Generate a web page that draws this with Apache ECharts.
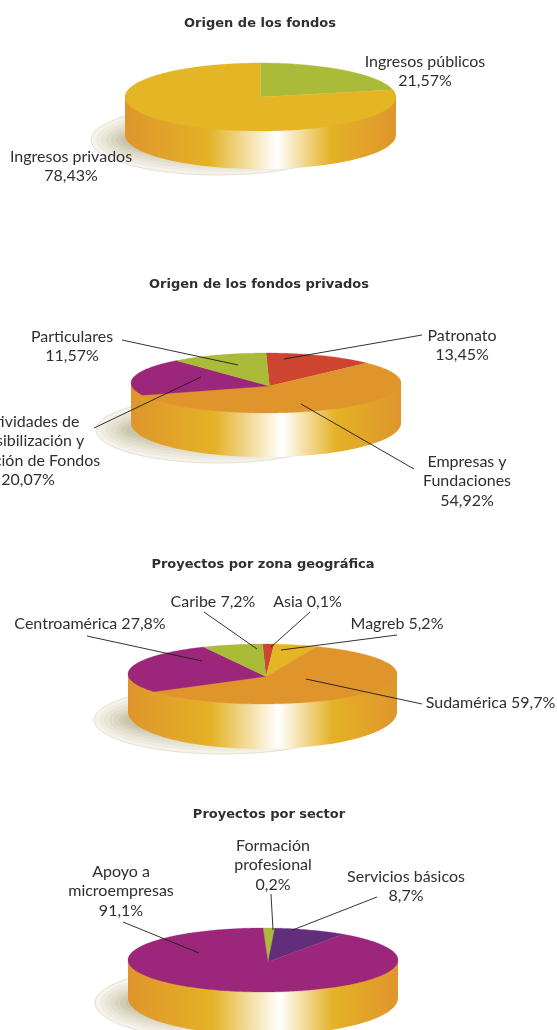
<!DOCTYPE html>
<html>
<head>
<meta charset="utf-8">
<style>
  html, body { margin: 0; padding: 0; background: #fff; }
  #chart { width: 557px; height: 1030px; }
</style>
<script src="https://cdn.jsdelivr.net/npm/echarts@6/dist/echarts.min.js"></script>
</head>
<body>
<div id="chart"></div>
<script>
// datos de cada tarta, en el orden de las agujas del reloj desde arriba
const fondosNames = ['Ingresos públicos\n21,57%', 'Ingresos privados\n78,43%'];
const fondosValues = [21.57, 78.43];

const privadosNames = ['Patronato\n13,45%', 'Empresas y\nFundaciones\n54,92%', 'Actividades de\nsensibilización y\ncaptación de Fondos\n20,07%', 'Particulares\n11,57%'];
const privadosValues = [13.45, 54.92, 20.07, 11.57];

const zonaNames = ['Asia 0,1%', 'Magreb 5,2%', 'Sudamérica 59,7%', 'Centroamérica 27,8%', 'Caribe 7,2%'];
const zonaValues = [0.1, 5.2, 59.7, 27.8, 7.2];

const sectorNames = ['Formación\nprofesional\n0,2%', 'Servicios básicos\n8,7%', 'Apoyo a\nmicroempresas\n91,1%'];
const sectorValues = [0.2, 8.7, 91.1];

const YELLOW = '#e4b524', GREEN = '#a9bb38', ORANGE = '#df952c', MAGENTA = '#9c267a', RED = '#cd4530', VIOLET = '#622e7c';
const TEXT = '#2f2f33';

// colocacion: tarta, vertice, sombra, etiquetas [x, y de la primera linea] y guias [x0, y0, x1, y1]
const pies = [
  {
    title: 'Origen de los fondos', titlePos: [255, 19],
    names: fondosNames, values: fondosValues, colors: [GREEN, YELLOW],
    cx: 260.5, cy: 97, rx: 135.5, ry: 34, depth: 38, wallRy: 34, vx: 0, vy: 0,
    shadow: [218, 140, 127, 35],
    labels: [[425, 62], [71, 157]],
    leaders: [null, null]
  },
  {
    title: 'Origen de los fondos privados', titlePos: [254, 280],
    names: privadosNames, values: privadosValues, colors: [RED, ORANGE, MAGENTA, GREEN],
    cx: 266, cy: 383, rx: 135, ry: 30, depth: 40, wallRy: 34, vx: 3.5, vy: 3,
    shadow: [218, 430, 122, 33],
    labels: [[462, 336], [467, 462], [28, 422], [72, 337]],
    leaders: [[422, 335, 284, 359], [414, 469, 301, 404], [94, 428, 201, 377], [122, 340, 238, 365]]
  },
  {
    title: 'Proyectos por zona geográfica', titlePos: [258, 560],
    names: zonaNames, values: zonaValues, colors: [RED, YELLOW, ORANGE, MAGENTA, GREEN],
    cx: 262.5, cy: 674, rx: 134.5, ry: 30, depth: 38, wallRy: 37, vx: 3.5, vy: 2.5,
    shadow: [223, 720, 129, 34],
    labels: [[307.5, 602], [397, 624], [490.5, 703], [90, 624], [213, 602]],
    leaders: [[310, 612, 271, 647], [397, 635, 281, 650], [422, 704, 306, 679], [87, 636, 202, 661], [204, 612, 257, 649]]
  },
  {
    title: 'Proyectos por sector', titlePos: [264, 810],
    names: sectorNames, values: sectorValues, colors: [GREEN, VIOLET, MAGENTA],
    cx: 263, cy: 960, rx: 135, ry: 32, depth: 38, wallRy: 37, vx: 5, vy: 2,
    shadow: [220, 1003, 125, 36],
    labels: [[273, 846], [406, 877], [121, 872]],
    leaders: [[271, 894, 273, 930], [377, 897, 292.5, 930], [123, 922, 199, 953]]
  }
];

// angulos de los sectores; las porciones muy pequeñas se dibujan con un minimo visible
function sliceAngles(values, minAngle) {
  const total = values.reduce((a, b) => a + b, 0);
  const angles = values.map(v => Math.max(v / total * 360, minAngle));
  const extra = angles.reduce((a, b) => a + b, 0) - 360;
  angles[angles.indexOf(Math.max(...angles))] -= extra;
  let start = -90;
  return angles.map(a => {
    const item = [start, start + a];
    start += a;
    return item;
  });
}

const wallGradient = {
  type: 'linear', x: 0, y: 0, x2: 1, y2: 0,
  colorStops: [
    { offset: 0, color: '#df952c' },
    { offset: 0.31, color: '#e4b226' },
    { offset: 0.56, color: '#ffffff' },
    { offset: 0.76, color: '#e4b226' },
    { offset: 1, color: '#df952c' }
  ]
};

const shadowSteps = ['#f5f2ea', '#efebe0', '#e8e4d6', '#e1ddcc', '#d9d5c1', '#d1ccb6', '#cac4ac'];

function baseSeries(p) {
  return {
    type: 'custom', coordinateSystem: 'none', silent: true, z: 1, clip: false,
    data: [0],
    renderItem: () => {
      const children = shadowSteps.map((color, i) => ({
        type: 'ellipse',
        shape: { cx: p.shadow[0] + i * 2, cy: p.shadow[1], rx: p.shadow[2] - i * 3, ry: p.shadow[3] - i * 3 },
        style: { fill: color, stroke: i === 0 ? '#d9d2bd' : null, lineWidth: 0.6 }
      }));
      children.push({
        type: 'ellipse',
        shape: { cx: p.cx, cy: p.cy + p.depth, rx: p.rx, ry: p.wallRy },
        style: { fill: wallGradient }
      });
      children.push({
        type: 'rect',
        shape: { x: p.cx - p.rx, y: p.cy, width: p.rx * 2, height: p.depth },
        style: { fill: wallGradient }
      });
      return { type: 'group', children };
    }
  };
}

function sliceSeries(p) {
  const angles = sliceAngles(p.values, 5);
  return {
    type: 'custom', coordinateSystem: 'none', silent: true, z: 2, clip: false,
    data: p.values.map((v, i) => [i, v]),
    renderItem: (params, api) => {
      const i = api.value(0);
      const points = [[p.cx + p.vx, p.cy + p.vy]];
      for (let a = angles[i][0]; ; a += 1) {
        const t = Math.min(a, angles[i][1]) * Math.PI / 180;
        points.push([p.cx + p.rx * Math.cos(t), p.cy + p.ry * Math.sin(t)]);
        if (a >= angles[i][1]) break;
      }
      return {
        type: 'polygon',
        shape: { points },
        style: { fill: p.colors[i], stroke: p.colors[i], lineWidth: 0.3 }
      };
    }
  };
}

function labelSeries(p) {
  return {
    type: 'custom', coordinateSystem: 'none', silent: true, z: 3, clip: false,
    data: p.values.map((v, i) => [i, v]),
    renderItem: (params, api) => {
      const i = api.value(0);
      const pos = p.labels[i];
      const children = [{
        type: 'text',
        x: pos[0], y: pos[1] - 10,
        style: {
          text: p.names[i], fill: TEXT, font: '16px Lato',
          lineHeight: 19.5, align: 'center', verticalAlign: 'top'
        }
      }];
      const l = p.leaders[i];
      if (l) {
        children.push({
          type: 'line',
          shape: { x1: l[0], y1: l[1], x2: l[2], y2: l[3] },
          style: { stroke: '#1c1c1c', lineWidth: 0.9 }
        });
      }
      return { type: 'group', children };
    }
  };
}

const chart = echarts.init(document.getElementById('chart'), null, { renderer: 'canvas' });

chart.setOption({
  animation: false,
  backgroundColor: '#ffffff',
  title: pies.map(p => ({
    text: p.title,
    left: p.titlePos[0], top: p.titlePos[1], textAlign: 'center', textVerticalAlign: 'middle',
    textStyle: { color: TEXT, fontFamily: 'DejaVu Sans', fontSize: 13, fontWeight: 'bold' }
  })),
  series: pies.flatMap(p => [baseSeries(p), sliceSeries(p), labelSeries(p)])
});
</script>
</body>
</html>
